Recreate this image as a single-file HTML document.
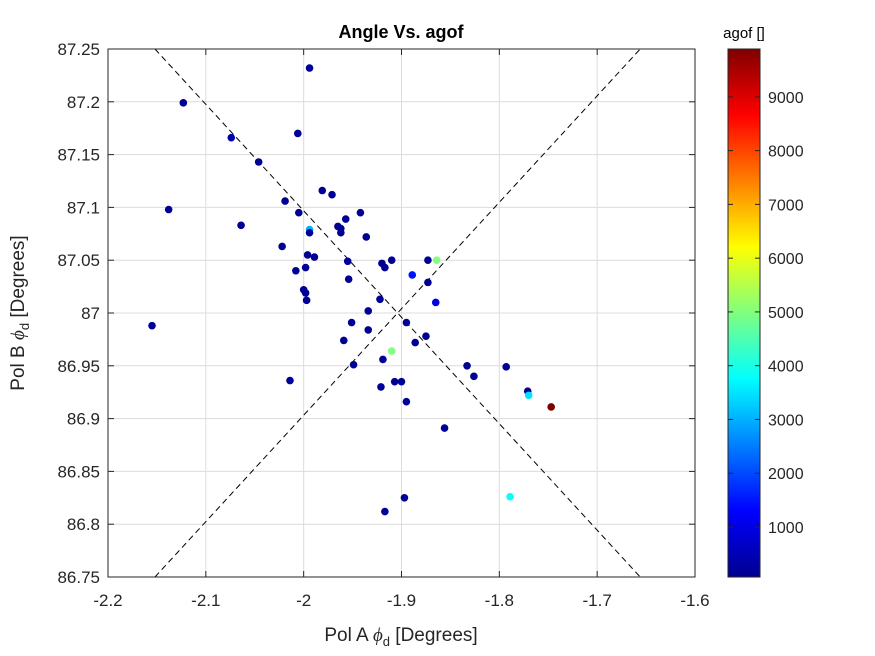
<!DOCTYPE html>
<html><head><meta charset="utf-8"><style>
body{margin:0;background:#fff;}
svg{display:block;font-family:"Liberation Sans",Arial,sans-serif;}
</style></head><body>
<svg id="chart" width="875" height="656">
<rect width="875" height="656" fill="#fff"/>
<g id="grid"></g>
<g id="lines"></g>
<g id="pts"></g>
<rect x="108" y="49" width="587" height="528" fill="none" stroke="#262626" stroke-width="1"/>
<g id="ticks"></g>
<text x="401" y="38" text-anchor="middle" font-size="18" font-weight="bold" fill="#000">Angle Vs. agof</text>
<text x="401" y="641" text-anchor="middle" font-size="19" fill="#262626">Pol A <tspan font-style="italic" font-family="Liberation Serif,serif">ϕ</tspan><tspan font-size="13" dy="5">d</tspan><tspan dy="-5"> [Degrees]</tspan></text>
<text transform="translate(24,313) rotate(-90)" text-anchor="middle" font-size="19" fill="#262626">Pol B <tspan font-style="italic" font-family="Liberation Serif,serif">ϕ</tspan><tspan font-size="13" dy="5">d</tspan><tspan dy="-5"> [Degrees]</tspan></text>
<defs><linearGradient id="jet" x1="0" y1="1" x2="0" y2="0">
<stop offset="0" stop-color="#00008f"/><stop offset="0.125" stop-color="#0000ff"/><stop offset="0.375" stop-color="#00ffff"/><stop offset="0.625" stop-color="#ffff00"/><stop offset="0.875" stop-color="#ff0000"/><stop offset="1" stop-color="#800000"/>
</linearGradient></defs>
<rect x="728" y="49" width="32" height="528" fill="url(#jet)" stroke="#262626" stroke-width="1"/>
<g id="cticks"></g>
<text x="744" y="38" text-anchor="middle" font-size="15" fill="#000">agof []</text>
</svg>
<script>
const xTicks=[-2.2,-2.1,-2,-1.9,-1.8,-1.7,-1.6];
const xTickLabels=["-2.2","-2.1","-2","-1.9","-1.8","-1.7","-1.6"];
const yTicks=[86.75,86.8,86.85,86.9,86.95,87,87.05,87.1,87.15,87.2,87.25];
const yTickLabels=["86.75","86.8","86.85","86.9","86.95","87","87.05","87.1","87.15","87.2","87.25"];
const cTicks=[1000,2000,3000,4000,5000,6000,7000,8000,9000];
const ptX=[-1.994,-2.123,-2.074,-2.006,-2.046,-1.981,-1.971,-2.138,-2.019,-2.005,-1.942,-1.957,-1.965,-2.064,-1.994,-1.962,-1.962,-1.936,-2.022,-1.996,-1.989,-1.955,-1.920,-1.917,-1.910,-1.873,-1.864,-1.998,-2.008,-1.889,-1.954,-1.873,-2.000,-1.998,-1.997,-1.922,-1.865,-1.934,-2.155,-1.951,-1.895,-1.934,-1.875,-1.959,-1.886,-1.910,-1.919,-1.949,-1.833,-1.793,-1.826,-2.014,-1.907,-1.900,-1.921,-1.771,-1.770,-1.747,-1.895,-1.856,-1.789,-1.897,-1.917,-1.994];
const ptY=[87.232,87.199,87.166,87.170,87.143,87.116,87.112,87.098,87.106,87.095,87.095,87.089,87.082,87.083,87.079,87.076,87.080,87.072,87.063,87.055,87.053,87.049,87.047,87.043,87.050,87.050,87.050,87.043,87.040,87.036,87.032,87.029,87.022,87.019,87.012,87.013,87.010,87.002,86.988,86.991,86.991,86.984,86.978,86.974,86.972,86.964,86.956,86.951,86.950,86.949,86.940,86.936,86.935,86.935,86.930,86.926,86.922,86.911,86.916,86.891,86.826,86.825,86.812,87.076];
const ptC=[300,250,500,300,250,250,250,300,250,300,300,250,250,250,3000,250,250,250,300,250,250,250,250,250,250,250,5000,250,300,1500,250,250,250,250,250,300,1000,250,300,250,250,250,250,250,250,5000,250,250,250,300,250,300,250,250,300,300,3500,9890,300,250,3800,300,300,250];
const line1X=[-2.152,-1.656], line1Y=[87.25,86.75];
const line2X=[-2.152,-1.656], line2Y=[86.75,87.25];
const X0=108,X1=695,Y0=577,Y1=49,CMIN=70,CMAX=9890;
const sx=v=>X0+(v+2.2)/0.6*(X1-X0);
const sy=v=>Y0-(v-86.75)/0.5*(Y0-Y1);
const sc=v=>Y0-(v-CMIN)/(CMAX-CMIN)*(Y0-Y1);
const NS="http://www.w3.org/2000/svg";
function mk(tag,attrs,parent){const e=document.createElementNS(NS,tag);for(const k in attrs)e.setAttribute(k,attrs[k]);document.getElementById(parent).appendChild(e);return e;}
function jet(v){let t=(v-CMIN)/(CMAX-CMIN);t=Math.max(0,Math.min(1,t));
 const f=x=>Math.round(255*Math.max(0,Math.min(1,x)));
 const r=f(Math.min(4*t-1.5,-4*t+4.5)),g=f(Math.min(4*t-0.5,-4*t+3.5)),b=f(Math.min(4*t+0.5,-4*t+2.5));
 return `rgb(${r},${g},${b})`;}
xTicks.forEach((v,i)=>{const x=sx(v);
 let g=mk('line',{x1:x,x2:x,y1:Y1,y2:Y0,stroke:'#dcdcdc','stroke-width':1},'grid');
 
 
 mk('line',{x1:x,x2:x,y1:Y0,y2:Y0-6,stroke:'#262626'},'ticks');
 mk('line',{x1:x,x2:x,y1:Y1,y2:Y1+6,stroke:'#262626'},'ticks');
 let t=mk('text',{x:x,y:Y0+29,'text-anchor':'middle','font-size':17,fill:'#262626'},'ticks');t.textContent=xTickLabels[i];
 
 });
yTicks.forEach((v,i)=>{const y=sy(v);
 let g=mk('line',{x1:X0,x2:X1,y1:y,y2:y,stroke:'#dcdcdc','stroke-width':1},'grid');
 
 
 mk('line',{x1:X0,x2:X0+6,y1:y,y2:y,stroke:'#262626'},'ticks');
 mk('line',{x1:X1,x2:X1-6,y1:y,y2:y,stroke:'#262626'},'ticks');
 let t=mk('text',{x:X0-8,y:y+6,'text-anchor':'end','font-size':17,fill:'#262626'},'ticks');t.textContent=yTickLabels[i];
 
 });
[[line1X,line1Y],[line2X,line2Y]].forEach(([lx,ly])=>{
 let l=mk('line',{x1:sx(lx[0]),y1:sy(ly[0]),x2:sx(lx[1]),y2:sy(ly[1]),stroke:'#000','stroke-dasharray':'6,4','stroke-width':1},'lines');
 
 });
ptX.forEach((v,i)=>{let c=mk('circle',{cx:sx(v),cy:sy(ptY[i]),r:3.8,fill:jet(ptC[i])},'pts');
 
 });
cTicks.forEach(v=>{const y=sc(v);
 mk('line',{x1:760,x2:755,y1:y,y2:y,stroke:'#262626'},'cticks');
 mk('line',{x1:728,x2:733,y1:y,y2:y,stroke:'#262626'},'cticks');
 let t=mk('text',{x:768,y:y+6,'font-size':16,fill:'#262626'},'cticks');t.textContent=v;
 
 });
</script>
</body></html>
